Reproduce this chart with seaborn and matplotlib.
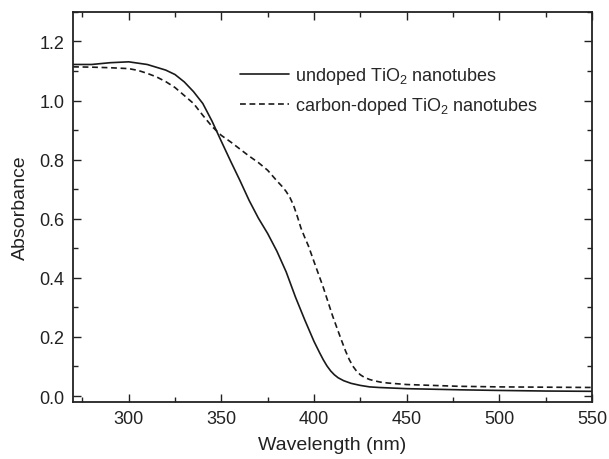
import matplotlib
matplotlib.use("Agg")
import matplotlib.pyplot as plt
import numpy as np
import pandas as pd
import seaborn as sns
from matplotlib.ticker import MultipleLocator

# UV-vis absorbance
wl_undoped = [270, 280, 290, 300, 310, 320, 325, 330, 335, 340, 345, 350, 355, 360,
              365, 370, 375, 380, 385, 390, 395, 400, 403, 405, 407, 409, 411, 413,
              416, 420, 425, 430, 435, 450, 480, 500, 525, 550]
abs_undoped = [1.122, 1.122, 1.128, 1.131, 1.122, 1.103, 1.088, 1.063, 1.030, 0.990, 0.930,
               0.862, 0.795, 0.730, 0.662, 0.602, 0.550, 0.490, 0.420, 0.335, 0.258, 0.185,
               0.147, 0.123, 0.102, 0.085, 0.072, 0.062, 0.052, 0.043, 0.036, 0.031, 0.029,
               0.025, 0.021, 0.019, 0.017, 0.016]

wl_doped = [270, 280, 290, 300, 305, 310, 315, 320, 325, 330, 335, 340, 345, 350, 355,
            360, 365, 370, 375, 380, 383, 385, 387, 389, 391, 393, 395, 397, 400, 405,
            410, 413, 415, 417, 419, 421, 423, 425, 427, 430, 433, 436, 440, 450, 478,
            500, 550]
abs_doped = [1.114, 1.113, 1.111, 1.108, 1.102, 1.092, 1.080, 1.064, 1.044, 1.017, 0.990,
             0.950, 0.912, 0.882, 0.860, 0.836, 0.812, 0.790, 0.764, 0.728, 0.708, 0.692,
             0.672, 0.645, 0.608, 0.568, 0.537, 0.508, 0.455, 0.368, 0.272, 0.220, 0.186,
             0.153, 0.124, 0.101, 0.084, 0.072, 0.064, 0.056, 0.051, 0.047, 0.044, 0.039,
             0.033, 0.031, 0.029]

labels = ["undoped TiO$_2$ nanotubes", "carbon-doped TiO$_2$ nanotubes"]

df = pd.concat([
    pd.DataFrame({"wl": wl_undoped, "abs": abs_undoped, "sample": labels[0]}),
    pd.DataFrame({"wl": wl_doped, "abs": abs_doped, "sample": labels[1]}),
])

sns.set_style("ticks")
plt.rcParams["font.family"] = ["Liberation Sans", "DejaVu Sans"]
plt.rcParams["mathtext.default"] = "regular"

fig = plt.figure(figsize=(6.09, 4.6), dpi=100)
ax = fig.add_axes([0.120, 0.124, 0.852, 0.848])

sns.lineplot(data=df, x="wl", y="abs", style="sample", style_order=labels,
             dashes={labels[0]: "", labels[1]: (3.5, 2.2)},
             color="#1a1a1a", linewidth=1.2, ax=ax, estimator=None, sort=True)

ax.set_xlim(270, 550)
ax.set_ylim(-0.02, 1.30)
ax.xaxis.set_major_locator(MultipleLocator(50))
ax.xaxis.set_minor_locator(MultipleLocator(25))
ax.yaxis.set_major_locator(MultipleLocator(0.2))
ax.yaxis.set_minor_locator(MultipleLocator(0.1))
ax.yaxis.set_major_formatter(matplotlib.ticker.FormatStrFormatter("%.1f"))
ax.tick_params(which="both", direction="in", top=True, right=True, width=1.0,
               color="#222222", labelsize=13, labelcolor="#222222")
ax.tick_params(which="major", length=6, pad=6)
ax.tick_params(which="minor", length=3.5)
for s in ax.spines.values():
    s.set_linewidth(1.3)
    s.set_color("#222222")

ax.set_xlabel("Wavelength (nm)", fontsize=14, color="#222222", labelpad=6)
ax.set_ylabel("Absorbance", fontsize=14, color="#222222", labelpad=8)

ax.legend(frameon=False, loc="upper left", bbox_to_anchor=(0.29, 0.905),
          fontsize=13, handlelength=2.7, handletextpad=0.35, labelspacing=0.5)

fig.savefig("out.png", dpi=100)
